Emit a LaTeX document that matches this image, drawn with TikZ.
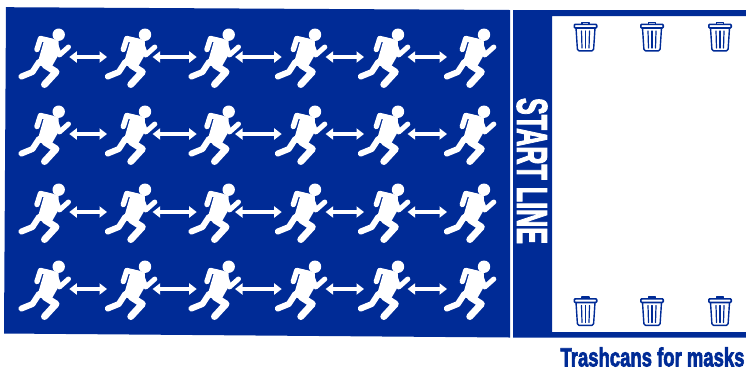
\documentclass[tikz,border=0pt]{standalone}
\usepackage{fontspec}
\usepackage{graphicx}
\newfontfamily\impactf[FakeBold=3]{Liberation Sans Bold}
\usetikzlibrary{arrows.meta}
\definecolor{runblue}{HTML}{002B96}
\tikzset{
  x=1pt,y=-1pt,
  limb/.style={white,line cap=round,line join=round},
  link/.style={white,line width=3.6pt,{Triangle[width=11pt,length=7.5pt]}-{Triangle[width=11pt,length=7.5pt]}},
  canline/.style={runblue,line width=1.4pt,line join=round,line cap=round},
  runner/.pic={
    \begin{scope}[shift={(-44.5,-57)}]
      \node[minimum width=51pt,minimum height=60pt,inner sep=0pt,outer sep=0pt] (-box) at (44.5,57) {};
      \fill[white] (58.7,34.7) circle (6.2);
      \draw[limb,line width=5.4pt] (53,41.5) -- (40.5,38.5) -- (37,49.5);
      \draw[limb,line width=5pt] (55,43) -- (59.5,55) -- (68.5,47);
      \fill[white,rounded corners=1pt] (45,37) -- (58.5,40.5) -- (59,54) -- (51,68) -- (37,65) -- cycle;
      \draw[limb,line width=6pt] (39,62) -- (32.5,72) -- (21.5,76.5);
      \draw[limb,line width=7pt] (45,65) -- (56,72) -- (44.5,84.5);
    \end{scope}
  },
  trashcan/.pic={
    \node[minimum width=24pt,minimum height=30pt,inner sep=0pt,outer sep=0pt] (-box) at (0,0) {};
    \draw[canline] (-3.5,-12.5) -- (-3.5,-14.2) -- (3.5,-14.2) -- (3.5,-12.5);
    \draw[canline,line width=1.6pt,rounded corners=1pt] (-11.2,-8.5) rectangle (11.2,-12.2);
    \draw[canline,rounded corners=1.5pt] (-9.5,-8.5) -- (-8,14.3) -- (8,14.3) -- (9.5,-8.5);
    \foreach \dx/\dy in {-4/-3.5,0/0,4/3.5}{
      \draw[canline,line width=1.2pt] (\dx,-5.5) -- (\dy,11.5);
    }
  }
}
\begin{document}
\begin{tikzpicture}
\useasboundingbox (0,0) rectangle (746,368);
\fill[runblue] (6,7.2) -- (510,10) -- (510,337.5) -- (4,333.5) -- cycle;
\fill[runblue] (513,10) -- (746,10) -- (746,16) -- (552,16) -- (552,332) -- (746,332) -- (746,337.5) -- (513,337.5) -- cycle;
% runners
\foreach \row/\yy in {1/57,2/134,3/212,4/289}{
  \foreach \col/\xx in {1/44.5,2/130.8,3/214.5,4/300.8,5/383.8,6/469.8}{
    \pic (r\row c\col) at (\xx,\yy) {runner};
  }
  \foreach \a/\b/\sa/\sb in {1/2/0.7/1.7,2/3/3.7/7.7,3/4/5/6.4,4/5/0.7/5.7,5/6/1.7/2.7}{
    \draw[link,shorten <=-\sa pt,shorten >=-\sb pt] (r\row c\a-box.east) -- (r\row c\b-box.west);
  }
}
% trash cans
\foreach \n/\xx in {1/585.5,2/652,3/720}{
  \pic (top\n) at (\xx,36.5) {trashcan};
  \pic (bot\n) at (\xx,311) {trashcan};
}
\node[white,rotate=-90,inner sep=0pt] (startline) at (532,171) {\resizebox{146pt}{30pt}{\impactf START LINE}};
\node[text=runblue,inner sep=0pt] (masks) at (652.5,357) {\resizebox{184pt}{19pt}{\impactf Trashcans for masks}};
\end{tikzpicture}
\end{document}
